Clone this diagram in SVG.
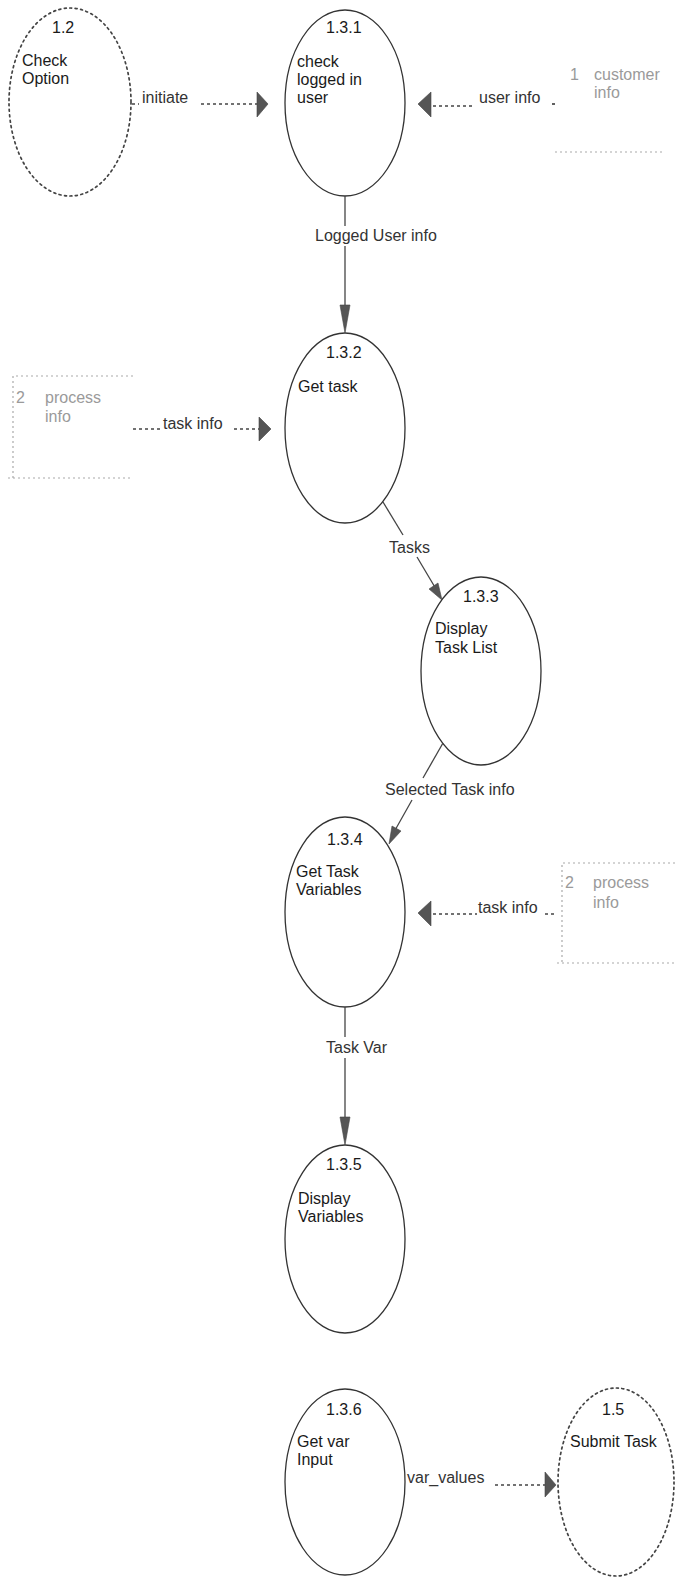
<svg xmlns="http://www.w3.org/2000/svg" width="675" height="1579" viewBox="0 0 675 1579">
<style>
.proc{fill:none;stroke:#333;stroke-width:1.3}
.ext{fill:none;stroke:#444;stroke-width:1.7;stroke-dasharray:2 3.5;stroke-linecap:round}
text{font-family:"Liberation Sans",Arial,sans-serif;font-size:16px}
.t{fill:#1a1a1a}
.lbl{fill:#333}
.ds{fill:#9a9a9a}
.flow{stroke:#444;stroke-width:1.3;fill:none}
.dflow{stroke:#444;stroke-width:1.7;stroke-dasharray:3 3;fill:none}
.dsline{stroke:#aaa;stroke-width:1.2;stroke-dasharray:2 3;fill:none}
.ah{fill:#555;stroke:#444;stroke-width:0.6}
</style>
<rect width="675" height="1579" fill="#fff"/>

<g id="ds1">
<text class="ds" x="570" y="80">1</text>
<text class="ds" x="594" y="80">customer</text>
<text class="ds" x="594" y="98">info</text>
<line class="dsline" x1="555" y1="152" x2="665" y2="152"/>
</g>
<g id="ds2a">
<path class="dsline" d="M133,376 H13 V478 M8,478 H133"/>
<text class="ds" x="16" y="403">2</text>
<text class="ds" x="45" y="403">process</text>
<text class="ds" x="45" y="422">info</text>
</g>
<g id="ds2b">
<path class="dsline" d="M675,863 H562 V963 M557,963 H675"/>
<text class="ds" x="565" y="888">2</text>
<text class="ds" x="593" y="888">process</text>
<text class="ds" x="593" y="908">info</text>
</g>

<g id="n1_2">
<ellipse class="ext" cx="70" cy="102" rx="61" ry="94"/>
<text class="t" x="52" y="33">1.2</text>
<text class="t" x="22" y="66">Check</text>
<text class="t" x="22" y="84">Option</text>
</g>
<g id="n1_3_1">
<ellipse class="proc" cx="345" cy="103" rx="60" ry="93"/>
<text class="t" x="326" y="33">1.3.1</text>
<text class="t" x="297" y="67">check</text>
<text class="t" x="297" y="85">logged in</text>
<text class="t" x="297" y="103">user</text>
</g>
<g id="n1_3_2">
<ellipse class="proc" cx="345" cy="428" rx="60" ry="95"/>
<text class="t" x="326" y="358">1.3.2</text>
<text class="t" x="298" y="392">Get task</text>
</g>
<g id="n1_3_3">
<ellipse class="proc" cx="481" cy="671" rx="60" ry="94"/>
<text class="t" x="463" y="602">1.3.3</text>
<text class="t" x="435" y="634">Display</text>
<text class="t" x="435" y="653">Task List</text>
</g>
<g id="n1_3_4">
<ellipse class="proc" cx="345" cy="912" rx="60" ry="95"/>
<text class="t" x="327" y="845">1.3.4</text>
<text class="t" x="296" y="877">Get Task</text>
<text class="t" x="296" y="895">Variables</text>
</g>
<g id="n1_3_5">
<ellipse class="proc" cx="345" cy="1239" rx="60" ry="94"/>
<text class="t" x="326" y="1170">1.3.5</text>
<text class="t" x="298" y="1204">Display</text>
<text class="t" x="298" y="1222">Variables</text>
</g>
<g id="n1_3_6">
<ellipse class="proc" cx="345" cy="1482" rx="60" ry="93"/>
<text class="t" x="326" y="1415">1.3.6</text>
<text class="t" x="297" y="1447">Get var</text>
<text class="t" x="297" y="1465">Input</text>
</g>
<g id="n1_5">
<ellipse class="ext" cx="616" cy="1482" rx="58" ry="94"/>
<text class="t" x="602" y="1415">1.5</text>
<text class="t" x="570" y="1447">Submit Task</text>
</g>

<g id="connectors">
<!-- initiate -->
<line class="dflow" x1="132" y1="104" x2="139" y2="104"/>
<text class="lbl" x="142" y="103">initiate</text>
<line class="dflow" x1="201" y1="104" x2="257" y2="104"/>
<polygon class="ah" points="257,92 268,104 257,117"/>
<!-- user info -->
<polygon class="ah" points="418,104 431,92 431,117"/>
<line class="dflow" x1="433" y1="106" x2="473" y2="106"/>
<text class="lbl" x="479" y="103">user info</text>
<line class="dflow" x1="552" y1="104" x2="557" y2="104"/>
<!-- Logged User info -->
<line class="flow" x1="345" y1="196" x2="345" y2="226"/>
<text class="lbl" x="315" y="241">Logged User info</text>
<line class="flow" x1="345" y1="246" x2="345" y2="306"/>
<polygon class="ah" points="340,305 350,305 345,333"/>
<!-- task info (left) -->
<line class="dflow" x1="133" y1="429" x2="160" y2="429"/>
<text class="lbl" x="163" y="429">task info</text>
<line class="dflow" x1="234" y1="429" x2="259" y2="429"/>
<polygon class="ah" points="259,417 271,429 259,441"/>
<!-- Tasks -->
<line class="flow" x1="383" y1="502" x2="403" y2="535"/>
<text class="lbl" x="389" y="553">Tasks</text>
<line class="flow" x1="417" y1="557" x2="436" y2="589"/>
<polygon class="ah" points="442,600 438,583 429,589"/>
<!-- Selected Task info -->
<line class="flow" x1="443" y1="743" x2="423" y2="778"/>
<text class="lbl" x="385" y="795">Selected Task info</text>
<line class="flow" x1="412" y1="800" x2="394" y2="832"/>
<polygon class="ah" points="389,844 401,831 392,826"/>
<!-- task info (right) -->
<polygon class="ah" points="418,913 431,901 431,926"/>
<line class="dflow" x1="433" y1="914" x2="477" y2="914"/>
<text class="lbl" x="478" y="913">task info</text>
<line class="dflow" x1="545" y1="914" x2="556" y2="914"/>
<!-- Task Var -->
<line class="flow" x1="345" y1="1007" x2="345" y2="1037"/>
<text class="lbl" x="326" y="1053">Task Var</text>
<line class="flow" x1="345" y1="1058" x2="345" y2="1118"/>
<polygon class="ah" points="340,1117 350,1117 345,1145"/>
<!-- var_values -->
<text class="lbl" x="407" y="1483">var_values</text>
<line class="dflow" x1="495" y1="1485" x2="545" y2="1485"/>
<polygon class="ah" points="545,1472 556,1485 545,1497"/>
</g>
</svg>
